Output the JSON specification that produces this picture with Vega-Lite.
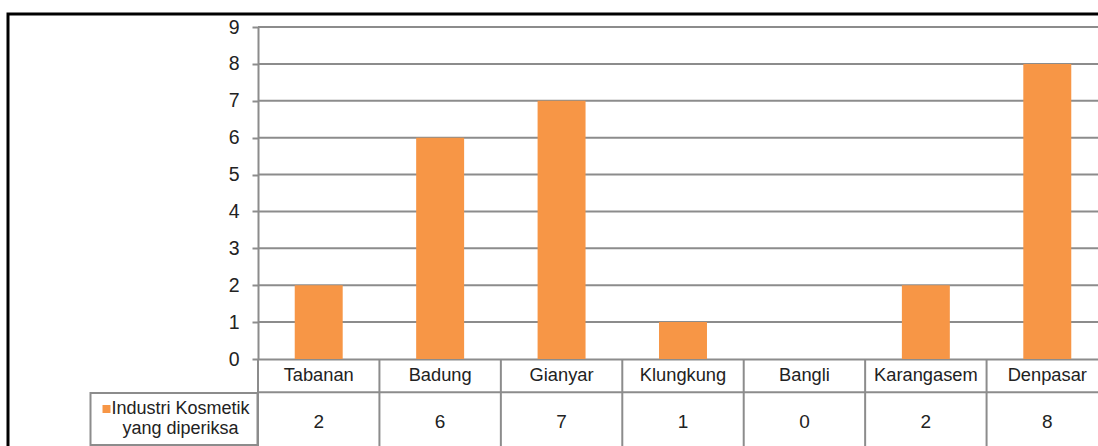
{
  "$schema": "https://vega.github.io/schema/vega-lite/v6.json",
  "width": 1100,
  "height": 440,
  "autosize": {"type": "none"},
  "padding": {"left": 8, "top": 14, "right": 0, "bottom": 0},
  "background": "white",
  "config": {
    "view": {"stroke": "black", "strokeWidth": 3},
    "font": "Liberation Sans",
    "legend": {"strokeWidth": 2}
  },
  "datasets": {
    "main": [
      {"kabupaten": "Tabanan", "jumlah": 2},
      {"kabupaten": "Badung", "jumlah": 6},
      {"kabupaten": "Gianyar", "jumlah": 7},
      {"kabupaten": "Klungkung", "jumlah": 1},
      {"kabupaten": "Bangli", "jumlah": 0},
      {"kabupaten": "Karangasem", "jumlah": 2},
      {"kabupaten": "Denpasar", "jumlah": 8}
    ],
    "grid": [{"v": 1}, {"v": 2}, {"v": 3}, {"v": 4}, {"v": 5}, {"v": 6}, {"v": 7}, {"v": 8}, {"v": 9}],
    "one": [{"k": 1}]
  },
  "layer": [
    {
      "data": {"name": "grid"},
      "mark": {"type": "rule", "color": "#8c8c8c", "strokeWidth": 2},
      "encoding": {
        "y": {"field": "v", "type": "quantitative"},
        "x": {"datum": "Tabanan", "bandPosition": 0},
        "x2": {"value": "width"}
      }
    },
    {
      "data": {"name": "main"},
      "mark": {"type": "bar", "width": {"band": 0.395}},
      "encoding": {
        "x": {
          "field": "kabupaten", "type": "nominal", "sort": null,
          "scale": {
            "domain": ["Tabanan", "Badung", "Gianyar", "Klungkung", "Bangli", "Karangasem", "Denpasar"],
            "range": [250, 1100], "paddingInner": 0, "paddingOuter": 0
          },
          "axis": {
            "orient": "bottom", "offset": -95, "title": null, "labelAngle": 0,
            "ticks": false, "tickSize": 0, "labelPadding": 16.5, "labelBaseline": "middle",
            "labelAlign": "center",
            "labelFontSize": 18.3, "labelColor": "#222222", "labelFont": "Liberation Sans",
            "domainColor": "#8c8c8c", "domainWidth": 2, "grid": false
          }
        },
        "y": {
          "field": "jumlah", "type": "quantitative",
          "scale": {"domain": [0, 9], "range": [345, 13], "nice": false},
          "axis": {
            "orient": "left", "offset": -250, "title": null, "values": [0, 1, 2, 3, 4, 5, 6, 7, 8, 9],
            "grid": false, "tickSize": 6, "tickWidth": 2, "tickColor": "#8c8c8c",
            "domainColor": "#8c8c8c", "domainWidth": 2, "labelPadding": 13,
            "labelFontSize": 19.5, "labelColor": "#222222", "labelFont": "Liberation Sans"
          }
        },
        "color": {
          "datum": "Industri Kosmetik yang diperiksa",
          "scale": {"range": ["#F79646"]},
          "legend": {
            "orient": "none", "legendX": 82.5, "legendY": 379, "title": null,
            "symbolType": "square", "symbolSize": 64, "symbolStrokeWidth": 0,
            "labelFontSize": 18, "labelColor": "#222222", "labelFont": "Liberation Sans",
            "labelAlign": "center", "labelOffset": 65, "labelLimit": 400,
            "labelExpr": "[slice(datum.label, 0, 17), slice(datum.label, 18)]",
            "padding": 7, "strokeColor": "#8c8c8c"
          }
        }
      }
    },
    {
      "data": {"name": "main"},
      "mark": {"type": "rule", "color": "#8c8c8c", "strokeWidth": 2},
      "encoding": {
        "x": {"field": "kabupaten", "type": "nominal", "bandPosition": 0},
        "y": {"datum": 0},
        "y2": {"datum": -2.8}
      }
    },
    {
      "data": {"name": "one"},
      "mark": {"type": "rule", "color": "#8c8c8c", "strokeWidth": 2},
      "encoding": {
        "y": {"datum": -0.9},
        "x": {"datum": "Tabanan", "bandPosition": 0},
        "x2": {"value": "width"}
      }
    },
    {
      "data": {"name": "main"},
      "mark": {"type": "text", "fontSize": 19, "color": "#222222", "baseline": "middle", "font": "Liberation Sans"},
      "encoding": {
        "x": {"field": "kabupaten", "type": "nominal"},
        "y": {"datum": -1.72},
        "text": {"field": "jumlah", "type": "quantitative"}
      }
    }
  ]
}
